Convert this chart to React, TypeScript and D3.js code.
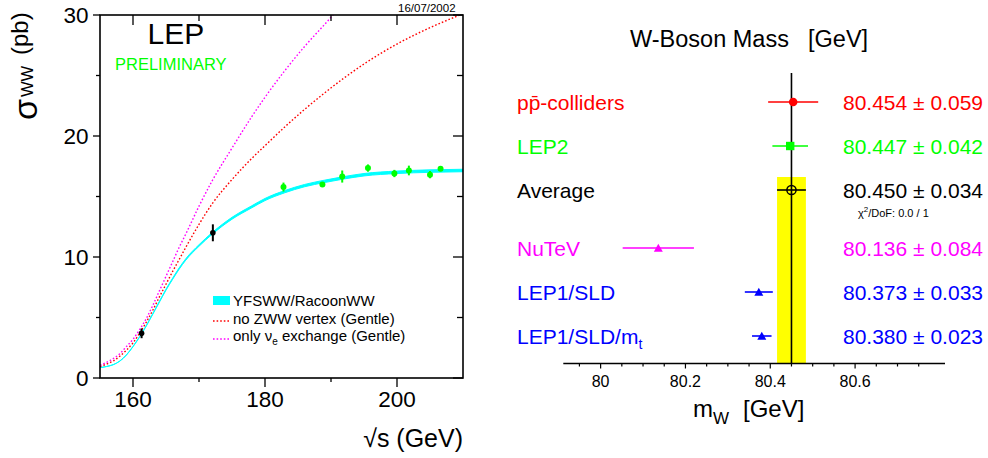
import React from 'react';
import * as d3 from 'd3';

// ---------- Left panel data: sigma_WW vs sqrt(s) ----------
const energyGrid = [155, 156, 157, 158, 159, 160, 161, 162, 163, 164, 165, 166, 167, 168, 170, 172, 175, 178, 180, 183, 186, 189, 192, 195, 200, 205, 210];
const yfswwSigma = [0.85, 0.95, 1.1, 1.4, 1.9, 2.6, 3.4, 4.3, 5.3, 6.3, 7.3, 8.2, 9.05, 9.8, 10.95, 11.95, 13.2, 14.15, 14.75, 15.4, 15.9, 16.25, 16.55, 16.8, 17.0, 17.1, 17.15];
const noZwwSigma = [0.95, 1.15, 1.4, 1.8, 2.3, 2.9, 3.7, 4.6, 5.6, 6.7, 7.75, 8.8, 9.8, 10.8, 12.7, 14.4, 16.4, 18.15, 19.2, 20.75, 22.2, 23.55, 24.8, 25.95, 27.6, 28.95, 30.1];
const nueOnlySigma = [1.05, 1.3, 1.6, 2.0, 2.6, 3.2, 4.0, 4.9, 6.0, 7.2, 8.4, 9.6, 10.8, 11.9, 14.2, 16.3, 19.0, 21.6, 23.2, 25.4, 27.4, 29.2, 31.0, 32.6, 35.0, 37.0, 39.0];

const blackE = [161.3, 172.1];
const blackSigma = [3.69, 12.0];
const blackErr = [0.4, 0.7];

const greenE = [182.8, 188.7, 191.7, 195.6, 199.6, 201.8, 205.0, 206.6];
const greenSigma = [15.78, 16.0, 16.65, 17.35, 16.9, 17.15, 16.8, 17.3];
const greenErr = [0.37, 0.15, 0.5, 0.3, 0.3, 0.4, 0.3, 0.2];

const xMajorTicks = [160, 180, 200];
const xMinorTicks = [170, 190];
const yMajorTicks = [0, 10, 20, 30];
const yMinorTicks = [5, 15, 25];

// ---------- Right panel data: W mass ----------
const mwLabels = ['pp\u0304-colliders', 'LEP2', 'Average', 'NuTeV', 'LEP1/SLD', 'LEP1/SLD/m'];
const mwValues = [80.454, 80.447, 80.45, 80.136, 80.373, 80.38];
const mwErrors = [0.059, 0.042, 0.034, 0.084, 0.033, 0.023];
const mwColors = ['#ff0000', '#00ff00', '#000000', '#ff00ff', '#0000ff', '#0000ff'];
const mwMarkers = ['circle', 'square', 'open', 'triangle', 'triangle', 'triangle'];
const mwMajorTicks = [80, 80.2, 80.4, 80.6];
const mwMinorTicks = [79.95, 80.05, 80.1, 80.15, 80.25, 80.3, 80.35, 80.45, 80.5, 80.55, 80.65, 80.7, 80.75];

const FONT = '"Liberation Sans", Arial, Helvetica, sans-serif';

export default function App() {
  // Left scales
  const x = d3.scaleLinear().domain([155, 210]).range([100, 463]);
  const y = d3.scaleLinear().domain([0, 30]).range([378, 15]);

  const band = d3
    .area<number>()
    .x((_, i) => x(energyGrid[i]))
    .y0((d) => y(d * 0.994))
    .y1((d) => y(d * 1.006))
    .curve(d3.curveMonotoneX);
  const line = d3
    .line<number>()
    .x((_, i) => x(energyGrid[i]))
    .y((d) => y(d))
    .curve(d3.curveMonotoneX);

  // Right scales
  const xm = d3.scaleLinear().domain([79.912, 80.812]).range([563.3, 945]);
  const rowY = (i: number) => 102 + i * 44 + (i >= 3 ? 14 : 0);
  const axisY = 363.5;
  const avg = mwValues[2];
  const avgErr = mwErrors[2];

  const fmt = d3.format('.3f');

  return (
    <svg width={988} height={458} style={{ position: 'absolute', left: 0, top: 0, background: '#fff' }} fontFamily={FONT}>
      <rect width={988} height={458} fill="#fff" />
      <defs>
        <clipPath id="lclip">
          <rect x={100} y={15} width={363} height={363} />
        </clipPath>
      </defs>

      {/* ===== Left panel ===== */}
      <g clipPath="url(#lclip)">
        <path d={band(yfswwSigma) || ''} fill="#00ffff" stroke="#00ffff" strokeWidth={1} />
        <path d={line(noZwwSigma) || ''} fill="none" stroke="#ff0000" strokeWidth={1.4} strokeDasharray="1.6,2" />
        <path d={line(nueOnlySigma) || ''} fill="none" stroke="#ff00ff" strokeWidth={1.4} strokeDasharray="1.6,2" />
      </g>

      {/* frame */}
      <rect x={100} y={15} width={363} height={363} fill="none" stroke="#000" strokeWidth={1.6} />
      {/* x ticks */}
      {xMajorTicks.map((t) => (
        <g key={'xm' + t}>
          <line x1={x(t)} x2={x(t)} y1={378} y2={387} stroke="#000" strokeWidth={1.3} />
          <line x1={x(t)} x2={x(t)} y1={15} y2={25} stroke="#000" strokeWidth={1.3} />
          <text x={x(t)} y={407} fontSize={22.5} textAnchor="middle">{t}</text>
        </g>
      ))}
      {xMinorTicks.map((t) => (
        <g key={'xn' + t}>
          <line x1={x(t)} x2={x(t)} y1={378} y2={382} stroke="#000" strokeWidth={1.3} />
          <line x1={x(t)} x2={x(t)} y1={15} y2={21} stroke="#000" strokeWidth={1.3} />
        </g>
      ))}
      {/* y ticks */}
      {yMajorTicks.map((t) => (
        <g key={'ym' + t}>
          <line x1={93} x2={100} y1={y(t)} y2={y(t)} stroke="#000" strokeWidth={1.3} />
          <line x1={453} x2={463} y1={y(t)} y2={y(t)} stroke="#000" strokeWidth={1.3} />
          <text x={88.5} y={y(t) + 8} fontSize={22.5} textAnchor="end">{t}</text>
        </g>
      ))}
      {yMinorTicks.map((t) => (
        <g key={'yn' + t}>
          <line x1={96} x2={100} y1={y(t)} y2={y(t)} stroke="#000" strokeWidth={1.3} />
          <line x1={457} x2={463} y1={y(t)} y2={y(t)} stroke="#000" strokeWidth={1.3} />
        </g>
      ))}

      {/* data points */}
      {blackE.map((e, i) => (
        <g key={'b' + i}>
          <line x1={x(e)} x2={x(e)} y1={y(blackSigma[i] - blackErr[i])} y2={y(blackSigma[i] + blackErr[i])} stroke="#000" strokeWidth={2} />
          <circle cx={x(e)} cy={y(blackSigma[i])} r={2.8} fill="#000" />
        </g>
      ))}
      {greenE.map((e, i) => (
        <g key={'g' + i}>
          <line x1={x(e)} x2={x(e)} y1={y(greenSigma[i] - greenErr[i])} y2={y(greenSigma[i] + greenErr[i])} stroke="#00ff00" strokeWidth={2} />
          <circle cx={x(e)} cy={y(greenSigma[i])} r={3} fill="#00ff00" />
        </g>
      ))}

      {/* texts */}
      <text x={147.5} y={44} fontSize={30}>LEP</text>
      <text x={115} y={70} fontSize={16.5} fill="#00ff00">PRELIMINARY</text>
      <text x={398} y={12} fontSize={11.5}>16/07/2002</text>

      {/* legend */}
      <rect x={213} y={296} width={17} height={9} fill="#00ffff" />
      <text x={233} y={306} fontSize={15}>YFSWW/RacoonWW</text>
      <line x1={213} x2={230} y1={321} y2={321} stroke="#ff0000" strokeWidth={1.4} strokeDasharray="1.6,2" />
      <text x={233} y={323.5} fontSize={15}>no ZWW vertex (Gentle)</text>
      <line x1={213} x2={230} y1={339} y2={339} stroke="#ff00ff" strokeWidth={1.4} strokeDasharray="1.6,2" />
      <text x={233} y={341} fontSize={15}>
        only <tspan>ν</tspan>
        <tspan fontSize={10} dy={4}>e</tspan>
        <tspan dy={-4}> exchange (Gentle)</tspan>
      </text>

      {/* axis titles */}
      <text transform="translate(37,120) rotate(-90)" fontSize={34}>σ</text>
      <text transform="translate(33,97) rotate(-90)" fontSize={16.5}>WW</text>
      <text transform="translate(28,55) rotate(-90)" fontSize={24}>(pb)</text>
      <text x={463} y={447} fontSize={25} textAnchor="end">√s (GeV)</text>

      {/* ===== Right panel ===== */}
      <text x={630} y={47} fontSize={23.5}>
        W-Boson Mass<tspan x={808}>[GeV]</tspan>
      </text>

      <rect x={xm(avg - avgErr)} y={177} width={xm(avg + avgErr) - xm(avg - avgErr)} height={axisY - 177} fill="#ffff00" />
      <line x1={xm(avg)} x2={xm(avg)} y1={73} y2={axisY} stroke="#000" strokeWidth={1.6} />

      {/* axis */}
      <line x1={563.3} x2={945} y1={axisY} y2={axisY} stroke="#000" strokeWidth={1.6} />
      {mwMajorTicks.map((t) => (
        <g key={'mm' + t}>
          <line x1={xm(t)} x2={xm(t)} y1={axisY} y2={axisY + 5} stroke="#000" strokeWidth={1.2} />
          <text x={xm(t)} y={387} fontSize={16} textAnchor="middle">{t === 80 ? '80' : t.toFixed(1)}</text>
        </g>
      ))}
      {mwMinorTicks.map((t) => (
        <line key={'mn' + t} x1={xm(t)} x2={xm(t)} y1={axisY} y2={axisY + 3} stroke="#000" strokeWidth={1.2} />
      ))}
      <text x={693} y={417} fontSize={24}>
        m<tspan fontSize={17} dy={7}>W</tspan>
        <tspan x={743} dy={-7}>[GeV]</tspan>
      </text>

      {/* rows */}
      {mwValues.map((v, i) => {
        const cy = rowY(i);
        const c = mwColors[i];
        const cx = xm(v);
        const m = mwMarkers[i];
        return (
          <g key={'r' + i}>
            <line x1={xm(v - mwErrors[i])} x2={xm(v + mwErrors[i])} y1={cy} y2={cy} stroke={c} strokeWidth={1.6} />
            {m === 'circle' && <circle cx={cx} cy={cy} r={4.3} fill={c} />}
            {m === 'square' && <rect x={cx - 4.2} y={cy - 4.2} width={8.4} height={8.4} fill={c} />}
            {m === 'open' && <circle cx={cx} cy={cy} r={4.6} fill="none" stroke={c} strokeWidth={1.5} />}
            {m === 'triangle' && (
              <path d={`M${cx - 4.5},${cy + 3.7}L${cx + 4.5},${cy + 3.7}L${cx},${cy - 4.3}Z`} fill={c} />
            )}
            <text x={517} y={cy + 7.5} fontSize={21} fill={c}>
              {mwLabels[i]}
              {i === 5 && (
                <tspan fontSize={14} dy={5}>t</tspan>
              )}
            </text>
            <text x={983} y={cy + 7.5} fontSize={21} fill={c} textAnchor="end">
              {fmt(v)} ± {fmt(mwErrors[i])}
            </text>
          </g>
        );
      })}
      <text x={858} y={217} fontSize={11}>
        χ<tspan fontSize={8} dy={-5}>2</tspan>
        <tspan dy={5}>/DoF: 0.0 / 1</tspan>
      </text>
    </svg>
  );
}
